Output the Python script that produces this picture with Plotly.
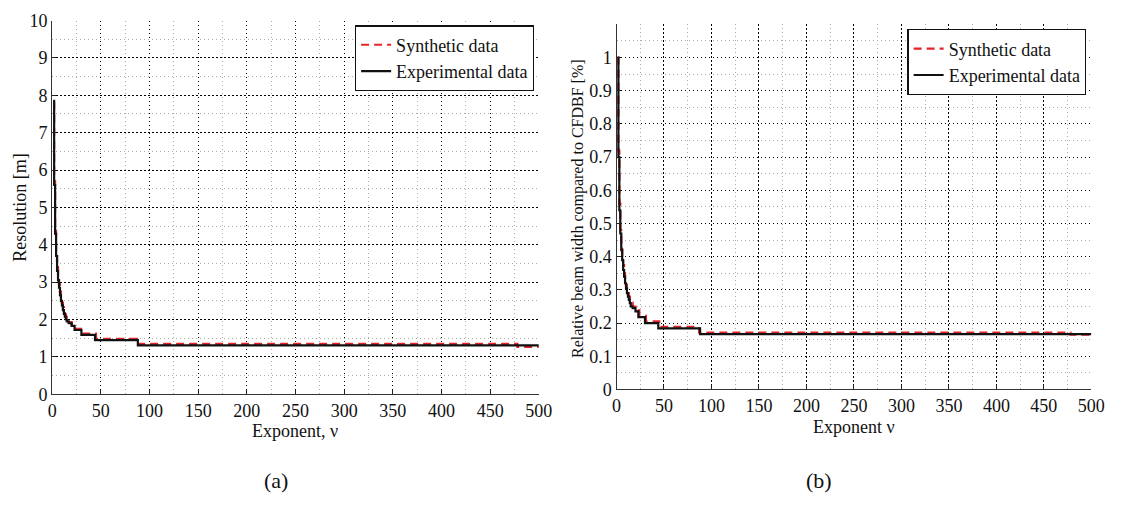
import plotly.graph_objects as go

# ---- data ----
res_exp_x = [1,2,3,4,5,6,7,8,9,10,11,12,13,14,15,17,20,23,30,44,88,500]
res_exp_y = [7.85,5.6,4.3,3.7,3.3,3.05,2.85,2.65,2.5,2.38,2.25,2.15,2.08,2.0,1.95,1.9,1.83,1.72,1.59,1.45,1.31,1.31]
res_syn_x = [1,2,3,4,5,6,7,8,9,10,11,12,13,14,15,17,20,24,31,45,87,478,500]
res_syn_y = [7.8,5.7,4.4,3.8,3.4,3.15,2.95,2.75,2.6,2.45,2.33,2.22,2.14,2.07,2.0,1.93,1.85,1.75,1.62,1.48,1.35,1.27,1.27]

bw_exp_x = [1,2,3,4,5,6,7,8,9,10,11,12,13,14,15,17,20,23,30,44,88,500]
bw_exp_y = [1.0,0.70,0.54,0.47,0.42,0.39,0.36,0.34,0.32,0.305,0.29,0.28,0.27,0.26,0.25,0.245,0.235,0.218,0.200,0.184,0.167,0.167]
bw_syn_x = [1,2,3,4,5,6,7,8,9,10,11,12,13,14,15,17,20,24,31,45,87,478,500]
bw_syn_y = [1.0,0.72,0.56,0.48,0.43,0.40,0.375,0.35,0.33,0.315,0.30,0.29,0.28,0.27,0.262,0.25,0.238,0.222,0.205,0.189,0.171,0.165,0.165]

x_ticks = [0,50,100,150,200,250,300,350,400,450,500]
res_ticks = [0,1,2,3,4,5,6,7,8,9,10]
bw_ticks = [0,0.1,0.2,0.3,0.4,0.5,0.6,0.7,0.8,0.9,1]
bw_tick_text = ["0","0.1","0.2","0.3","0.4","0.5","0.6","0.7","0.8","0.9","1"]

W, H = 1126, 508
FONT = "Liberation Serif, Times New Roman, serif"
RED = "#e3242b"

fig = go.Figure()

def add_pair(xs, ys, xe, ye, xa, ya, leg):
    fig.add_trace(go.Scatter(x=xs, y=ys, mode="lines", line_shape="hv",
                             line=dict(color=RED, width=2.2, dash="8px,5px"),
                             name="Synthetic data", xaxis=xa, yaxis=ya, legend=leg))
    fig.add_trace(go.Scatter(x=xe, y=ye, mode="lines", line_shape="hv",
                             line=dict(color="#111111", width=2.2),
                             name="Experimental data", xaxis=xa, yaxis=ya, legend=leg))

add_pair(res_syn_x, res_syn_y, res_exp_x, res_exp_y, "x", "y", "legend")
add_pair(bw_syn_x, bw_syn_y, bw_exp_x, bw_exp_y, "x2", "y2", "legend2")

def px_x(p): return p / W
def px_y(p): return 1 - p / H

common_axis = dict(
    showgrid=True, gridcolor="#000000", griddash="1.5px,2.5px", gridwidth=1.3,
    showline=True, linecolor="#333333", linewidth=1.2, mirror=False,
    ticks="inside", ticklen=4, tickcolor="#222222",
    zeroline=False,
    tickfont=dict(family=FONT, size=18, color="#111111"),
)
MINOR_GRID = dict(showgrid=True, gridcolor="#aaaaaa", griddash="1px,3px", gridwidth=1, ticks="")

fig.update_layout(
    width=W, height=H, margin=dict(l=0, r=0, t=0, b=0),
    plot_bgcolor="white", paper_bgcolor="white",
    font=dict(family=FONT, color="#111111"),
    xaxis=dict(domain=[px_x(48), px_x(543)], range=[0, 500], tickvals=x_ticks,
               minor=dict(dtick=25, **MINOR_GRID), anchor="y", **common_axis),
    yaxis=dict(domain=[px_y(400), px_y(11)], range=[0, 10], tickvals=res_ticks,
               minor=dict(dtick=0.5, **MINOR_GRID), anchor="x", **common_axis),
    xaxis2=dict(domain=[px_x(622), px_x(1105)], range=[0, 500], tickvals=x_ticks,
                minor=dict(dtick=25, **MINOR_GRID), anchor="y2", **common_axis),
    yaxis2=dict(domain=[px_y(395), px_y(15)], range=[0, 1.1], tickvals=bw_ticks, ticktext=bw_tick_text,
                minor=dict(dtick=0.05, **MINOR_GRID), anchor="x2", **common_axis),
    legend=dict(x=px_x(538), y=px_y(16), xanchor="right", yanchor="top",
                bgcolor="white", bordercolor="#111111", borderwidth=1.2,
                font=dict(family=FONT, size=18), itemwidth=30, tracegroupgap=0),
    legend2=dict(x=px_x(1100), y=px_y(20), xanchor="right", yanchor="top",
                 bgcolor="white", bordercolor="#111111", borderwidth=1.2,
                 font=dict(family=FONT, size=18), itemwidth=30, tracegroupgap=0),
    showlegend=True,
)

ann = [
    dict(text="Exponent, ν", x=px_x(295), y=px_y(438), font=dict(size=18)),
    dict(text="Exponent ν", x=px_x(864), y=px_y(434), font=dict(size=18)),
    dict(text="Resolution [m]", x=px_x(15), y=px_y(205), textangle=-90, font=dict(size=18)),
    dict(text="Relative beam width compared to CFDBF [%]", x=px_x(583), y=px_y(207), textangle=-90, font=dict(size=16)),
    dict(text="(a)", x=px_x(276), y=px_y(490), font=dict(size=22)),
    dict(text="(b)", x=px_x(828), y=px_y(490), font=dict(size=22)),
]
for a in ann:
    fig.add_annotation(xref="paper", yref="paper", showarrow=False,
                       xanchor="center", yanchor="middle",
                       font_family=FONT, font_color="#111111", **{k: v for k, v in a.items()})

fig.write_html("out.html")
